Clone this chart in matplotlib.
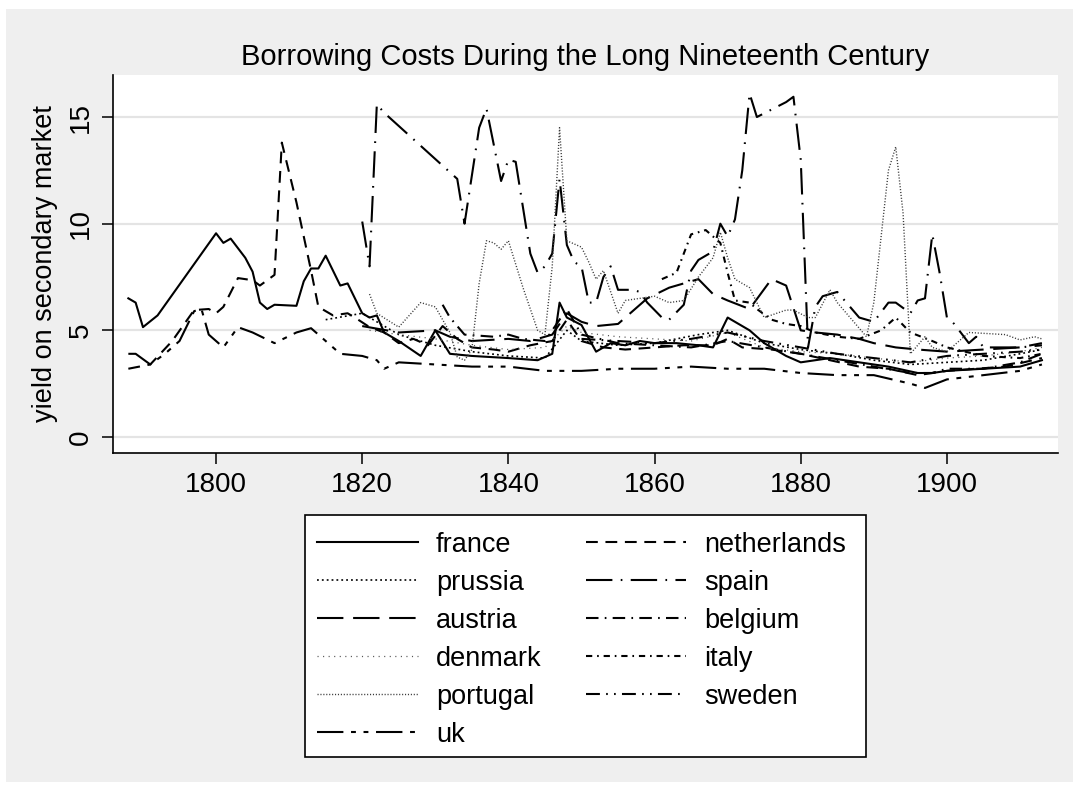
import matplotlib
matplotlib.use("Agg")
import matplotlib.pyplot as plt
from matplotlib.patches import Rectangle
from matplotlib.lines import Line2D

plt.rcParams['font.family'] = ['Liberation Sans', 'DejaVu Sans']

# ---------------- data ----------------
france_years = [1788, 1789, 1790, 1792, 1800, 1801, 1802, 1804, 1805, 1806, 1807, 1808, 1811, 1812, 1813, 1814,
                1815, 1817, 1818, 1820, 1821, 1822, 1823, 1825, 1828, 1830, 1832, 1835, 1840, 1844, 1846, 1847,
                1848, 1850, 1852, 1854, 1856, 1858, 1860, 1863, 1866, 1868, 1870, 1873, 1875, 1878, 1880, 1884,
                1888, 1892, 1896, 1898, 1900, 1905, 1910, 1913]
france_vals = [6.5, 6.3, 5.15, 5.7, 9.55, 9.1, 9.3, 8.4, 7.75, 6.3, 6.0, 6.2, 6.15, 7.3, 7.9, 7.9,
               8.5, 7.1, 7.2, 5.8, 5.6, 5.7, 4.9, 4.5, 3.8, 5.0, 3.9, 3.8, 3.7, 3.6, 3.9, 6.3,
               5.6, 5.25, 4.0, 4.4, 4.3, 4.5, 4.4, 4.4, 4.3, 4.2, 5.6, 5.0, 4.4, 3.8, 3.5, 3.7,
               3.5, 3.3, 3.0, 3.0, 3.1, 3.2, 3.3, 3.6]

netherlands_years = [1788, 1791, 1794, 1797, 1799, 1800, 1801, 1803, 1805, 1806, 1808, 1809, 1811, 1813, 1814,
                     1816, 1818, 1819, 1821, 1823, 1825, 1827, 1829, 1831, 1833, 1835, 1838, 1840, 1843, 1846,
                     1848, 1850, 1853, 1856, 1860, 1864, 1868, 1870, 1872, 1876, 1880, 1884, 1888, 1892, 1896,
                     1900, 1904, 1908, 1913]
netherlands_vals = [3.2, 3.4, 4.5, 5.95, 6.0, 5.8, 6.1, 7.45, 7.35, 7.1, 7.6, 13.8, 11.0, 7.8, 6.1,
                    5.7, 5.8, 5.6, 5.15, 4.9, 4.4, 4.6, 4.3, 5.2, 4.6, 4.2, 4.1, 4.0, 4.3, 4.5,
                    5.5, 4.5, 4.2, 4.1, 4.2, 4.3, 4.3, 4.6, 4.2, 4.1, 3.9, 3.6, 3.3, 3.2, 2.9,
                    3.1, 3.2, 3.3, 3.7]

prussia_years = [1815, 1820, 1825, 1830, 1835, 1840, 1845, 1848, 1850, 1855, 1860, 1866, 1870, 1875, 1880,
                 1885, 1890, 1895, 1900, 1905, 1910, 1913]
prussia_vals = [5.5, 5.8, 4.8, 4.3, 4.0, 3.8, 3.7, 5.0, 4.5, 4.3, 4.4, 4.8, 5.0, 4.4, 4.1,
                3.9, 3.6, 3.4, 3.5, 3.6, 3.9, 4.1]

spain_years = [1820, 1821, 1822, 1823, 1833, 1834, 1836, 1837, 1839, 1840, 1841, 1843, 1844, 1845, 1846,
               1847, 1848, 1849, 1850, 1851, 1852, 1853, 1854, 1855, 1857, 1858, 1859, 1861, 1862, 1864,
               1865, 1866, 1868, 1869, 1870, 1871, 1872, 1873, 1874, 1878, 1879, 1880, 1881, 1882, 1883,
               1885, 1888, 1890, 1892, 1893, 1895, 1896, 1897, 1898, 1899, 1900, 1901, 1903, 1904, 1905,
               1907, 1910, 1913]
spain_vals = [10.1, 8.0, 15.6, 15.2, 12.1, 10.0, 14.5, 15.4, 12.0, 13.0, 12.9, 8.6, 7.7, 8.0, 8.6,
              12.1, 9.0, 8.2, 8.0, 6.3, 6.3, 7.5, 8.0, 6.9, 6.9, 6.8, 6.3, 5.6, 5.5, 6.2,
              7.8, 8.3, 8.7, 10.0, 9.4, 10.2, 12.5, 16.1, 15.0, 15.7, 15.95, 13.0, 4.2, 6.1, 6.6,
              6.8, 5.6, 5.4, 6.3, 6.3, 5.8, 6.4, 6.5, 9.5, 7.7, 5.6, 5.3, 4.4, 4.7, 4.2,
              4.2, 4.2, 4.3]

austria_years = [1820, 1825, 1830, 1832, 1835, 1840, 1843, 1846, 1848, 1850, 1852, 1855, 1859, 1862, 1866,
                 1868, 1870, 1873, 1876, 1878, 1880, 1882, 1885, 1888, 1890, 1893, 1896, 1900, 1905, 1910, 1913]
austria_vals = [5.2, 4.9, 5.0, 4.7, 4.5, 4.6, 4.5, 4.8, 5.8, 5.4, 5.2, 5.3, 6.5, 7.0, 7.4,
                6.7, 6.4, 6.0, 7.4, 7.1, 5.0, 4.9, 4.8, 4.6, 4.4, 4.2, 4.1, 4.0, 4.1, 4.2, 4.4]

belgium_years = [1831, 1832, 1834, 1838, 1840, 1842, 1845, 1848, 1850, 1855, 1860, 1865, 1870, 1875, 1880,
                 1885, 1890, 1895, 1898, 1900, 1905, 1910, 1913]
belgium_vals = [6.2, 5.6, 4.8, 4.7, 4.8, 4.6, 4.5, 6.0, 4.8, 4.4, 4.3, 4.2, 4.5, 4.2, 3.9,
                3.6, 3.3, 3.0, 3.0, 3.2, 3.2, 3.5, 3.9]

denmark_years = [1821, 1825, 1830, 1835, 1840, 1845, 1848, 1850, 1855, 1860, 1865, 1870, 1875, 1880, 1885,
                 1890, 1895, 1900, 1905, 1910, 1913]
denmark_vals = [5.0, 4.8, 4.6, 4.3, 4.1, 4.2, 5.2, 4.9, 4.7, 4.6, 4.5, 4.9, 4.2, 4.0, 3.9,
                3.7, 3.5, 3.7, 3.8, 4.0, 4.2]

italy_years = [1861, 1863, 1865, 1867, 1869, 1870, 1871, 1873, 1874, 1876, 1878, 1880, 1882, 1885, 1888,
               1891, 1893, 1895, 1898, 1900, 1905, 1910, 1913]
italy_vals = [7.4, 7.7, 9.5, 9.7, 9.1, 7.7, 6.4, 6.3, 6.0, 5.5, 5.3, 5.2, 4.9, 4.7, 4.6,
              5.0, 5.6, 4.9, 4.5, 4.2, 3.8, 3.7, 3.9]

portugal_years = [1821, 1822, 1825, 1828, 1830, 1832, 1833, 1834, 1835, 1836, 1837, 1838, 1839, 1840, 1842,
                  1844, 1845, 1846, 1847, 1848, 1850, 1851, 1852, 1853, 1855, 1856, 1860, 1862, 1864, 1866,
                  1868, 1869, 1870, 1871, 1873, 1874, 1875, 1878, 1879, 1881, 1882, 1884, 1885, 1889, 1890,
                  1891, 1892, 1893, 1894, 1895, 1897, 1898, 1900, 1903, 1908, 1910, 1912, 1913]
portugal_vals = [6.7, 5.8, 5.15, 6.3, 6.1, 4.9, 3.75, 3.6, 4.1, 7.2, 9.2, 9.1, 8.8, 9.2, 7.0,
                 5.0, 4.8, 8.0, 14.5, 9.2, 8.9, 8.2, 7.4, 7.8, 5.8, 6.4, 6.6, 6.3, 6.4, 7.5,
                 8.4, 9.6, 8.4, 7.4, 7.0, 6.3, 5.6, 5.95, 5.95, 5.6, 5.6, 6.9, 6.3, 4.7, 6.3,
                 9.4, 12.5, 13.6, 10.5, 3.9, 4.7, 4.2, 4.0, 4.9, 4.8, 4.55, 4.7, 4.6]

sweden_years = [1850, 1855, 1860, 1865, 1870, 1875, 1880, 1885, 1890, 1895, 1900, 1905, 1910, 1913]
sweden_vals = [4.6, 4.5, 4.4, 4.6, 4.9, 4.5, 4.2, 3.9, 3.7, 3.5, 3.8, 3.9, 4.0, 4.1]

uk_years = [1788, 1789, 1791, 1793, 1795, 1797, 1798, 1799, 1801, 1803, 1805, 1808, 1811, 1813, 1815,
            1817, 1820, 1822, 1823, 1825, 1830, 1835, 1840, 1845, 1850, 1855, 1860, 1865, 1870, 1875,
            1880, 1885, 1890, 1895, 1897, 1900, 1905, 1910, 1913]
uk_vals = [3.9, 3.9, 3.4, 3.9, 4.5, 5.9, 6.0, 4.8, 4.2, 5.15, 4.9, 4.4, 4.9, 5.1, 4.5,
           3.9, 3.8, 3.6, 3.2, 3.5, 3.4, 3.3, 3.3, 3.1, 3.1, 3.2, 3.2, 3.3, 3.2, 3.2,
           3.0, 2.9, 2.9, 2.5, 2.3, 2.7, 2.9, 3.1, 3.4]

y_ticks = [0, 5, 10, 15]
x_ticks = [1800, 1820, 1840, 1860, 1880, 1900]
title_text = "Borrowing Costs During the Long Nineteenth Century"
y_label = "yield on secondary market"
legend_col1 = ["france", "prussia", "austria", "denmark", "portugal", "uk"]
legend_col2 = ["netherlands", "spain", "belgium", "italy", "sweden"]

# ---------------- styles ----------------
LW = 1.5
def dash(pattern_pt, lw):
    return (0, tuple(p / lw for p in pattern_pt))

series = [
    ("france", france_years, france_vals, '-', LW, 'black'),
    ("prussia", prussia_years, prussia_vals, dash([1.3, 2.2], 1.2), 1.2, 'black'),
    ("austria", austria_years, austria_vals, dash([19, 7], LW), LW, 'black'),
    ("denmark", denmark_years, denmark_vals, dash([0.8, 3.2], 0.9), 0.9, '#555555'),
    ("portugal", portugal_years, portugal_vals, dash([0.8, 1.3], 1.0), 1.0, '#3a3a3a'),
    ("uk", uk_years, uk_vals, dash([19, 5.5, 3.5, 5.5, 3.5, 5.5], LW), LW, 'black'),
    ("netherlands", netherlands_years, netherlands_vals, dash([8.5, 5.5], LW), LW, 'black'),
    ("spain", spain_years, spain_vals, dash([19, 6, 1.2, 6], LW), LW, 'black'),
    ("belgium", belgium_years, belgium_vals, dash([9, 4.5, 1.2, 4.5], LW), LW, 'black'),
    ("italy", italy_years, italy_vals, dash([4.5, 3.5, 1.2, 3.5], LW), LW, 'black'),
    ("sweden", sweden_years, sweden_vals, dash([10, 4.5, 1.2, 4.5, 1.2, 4.5], LW), LW, 'black'),
]
draw_order = ["france", "netherlands", "prussia", "spain", "austria", "belgium",
              "denmark", "italy", "portugal", "sweden", "uk"]

W, H = 1075, 786
fig = plt.figure(figsize=(W / 100, H / 100), dpi=100, facecolor='white')
fig.patches.append(Rectangle((6 / W, 4 / H), (W - 8) / W, (H - 13) / H, transform=fig.transFigure,
                             facecolor='#EFEFEF', edgecolor='none', zorder=-10))

ax = fig.add_axes([113 / W, 1 - 453 / H, (1058 - 113) / W, (453 - 75) / H])
ax.set_facecolor('white')
ax.set_xlim(1785.9, 1915.2)
ax.set_ylim(-0.75, 16.97)

for y in y_ticks:
    ax.axhline(y, color='#E4E4E4', lw=1.6, zorder=0)

style_map = {s[0]: s for s in series}
for name in draw_order:
    _, xs, ys, ls, lw, col = style_map[name]
    ax.plot(xs, ys, color=col, lw=lw, linestyle=ls, zorder=2)

for sp in ['top', 'right']:
    ax.spines[sp].set_visible(False)
for sp in ['left', 'bottom']:
    ax.spines[sp].set_linewidth(1.2)

ax.set_yticks(y_ticks)
ax.set_xticks(x_ticks)
ax.tick_params(axis='both', direction='out', length=8, width=1.1, labelsize=20, colors='black')
ax.tick_params(axis='y', pad=6)
ax.tick_params(axis='x', pad=6)
for lab in ax.get_yticklabels():
    lab.set_rotation(90)
    lab.set_va('center')
ax.set_ylabel(y_label, fontsize=19.5, labelpad=7)
ax.set_title(title_text, fontsize=21, pad=7)

# ---------------- legend (drawn in figure pixel coordinates) ----------------
def fx(px):
    return px / W

def fy(py):
    return 1 - py / H

fig.patches.append(Rectangle((fx(305), fy(757)), fx(866) - fx(305), fy(515) - fy(757),
                             transform=fig.transFigure, facecolor='white', edgecolor='black',
                             lw=1.2, zorder=5))
row_y = [542, 580, 618, 656, 694, 732]
col_specs = [(legend_col1, 317, 418, 436), (legend_col2, 586, 686, 704)]
for names, lx0, lx1, tx in col_specs:
    for i, name in enumerate(names):
        _, _, _, ls, lw, col = style_map[name]
        fig.add_artist(Line2D([fx(lx0), fx(lx1)], [fy(row_y[i]), fy(row_y[i])],
                              transform=fig.transFigure, color=col, lw=lw, linestyle=ls, zorder=6))
        fig.text(fx(tx), fy(row_y[i] + 10), name, fontsize=19.5, ha='left', va='baseline', zorder=6)

fig.savefig("out.png", dpi=100, facecolor=fig.get_facecolor())
